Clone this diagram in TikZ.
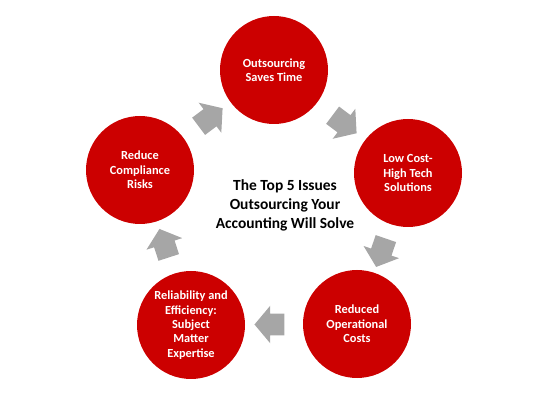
\documentclass[tikz,border=0pt]{standalone}
\usepackage{fontspec}
\setmainfont{Carlito}
\usepackage{tikz}
\usetikzlibrary{shapes.arrows,calc,positioning}
\definecolor{issuered}{RGB}{204,0,0}
\definecolor{arrowgray}{RGB}{166,166,166}

\begin{document}
\begin{tikzpicture}[
  issue/.style={circle, fill=issuered, minimum size=2.7cm, inner sep=0pt, align=center, text=white, font=\fontsize{8.8}{10.2}\selectfont\bfseries},
  blockarr/.style={single arrow, fill=arrowgray, minimum height=0.75cm, inner xsep=0pt, inner ysep=0.2625cm, single arrow head extend=0.2cm, single arrow tip angle=100},
  title/.style={align=center, font=\fontsize{11}{13.5}\selectfont\bfseries}
]
  \useasboundingbox (0,0) rectangle (13.5,10.125);

  % issues
  \node[issue] (time) at (6.85,8.375) {Outsourcing\\Saves Time};
  \node[issue] (tech) at (10.2,5.8) {Low Cost-\\High Tech\\Solutions};
  \node[issue] (cost) at (8.925,2.025) {Reduced\\Operational\\Costs};
  \node[issue] (expert) at (4.775,2.0) {Reliability and\\Efficiency:\\Subject\\Matter\\Expertise};
  \node[issue] (risk) at (3.5,5.875) {Reduce\\Compliance\\Risks};

  % centre text
  \node[title] (topfive) at (7.125,5.0) {The Top 5 Issues\\Outsourcing Your\\Accounting Will Solve};

  % arrows between issues
  \foreach \a/\b/\ang in {risk/time/37, time/tech/-37, tech/cost/-109, cost/expert/180, expert/risk/108} {
    \node[blockarr, rotate=\ang] at ($(\a)!0.5!(\b)$) {};
  }
\end{tikzpicture}
\end{document}
